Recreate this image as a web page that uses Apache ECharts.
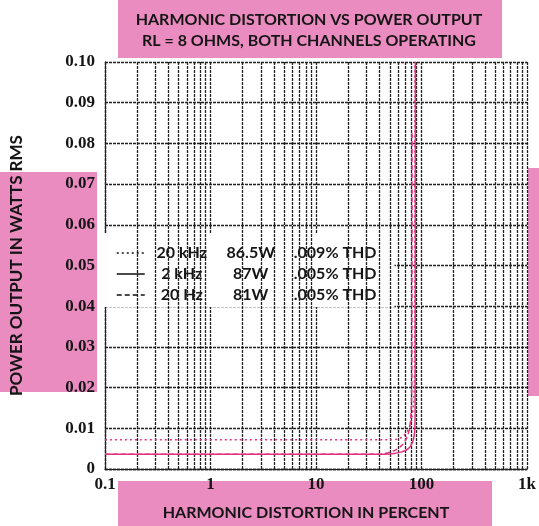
<!DOCTYPE html>
<html>
<head>
<meta charset="utf-8">
<script src="https://cdn.jsdelivr.net/npm/echarts@6/dist/echarts.min.js"></script>
<style>
html,body{margin:0;padding:0;background:#fff;}
#chart{width:539px;height:526px;}
</style>
</head>
<body>
<div id="chart"></div>
<script>
// ---- data (x: axis labelled "harmonic distortion in percent", y: axis labelled "power output in watts rms") ----
const titleLines = ['HARMONIC DISTORTION VS POWER OUTPUT', 'RL = 8 OHMS, BOTH CHANNELS OPERATING'];
const xAxisName = 'HARMONIC DISTORTION IN PERCENT';
const yAxisName = 'POWER OUTPUT IN WATTS RMS';
const xTicks = [0.1, 1, 10, 100, 1000];
const xTickLabels = ['0.1', '1', '10', '100', '1k'];
const yTicks = [0, 0.01, 0.02, 0.03, 0.04, 0.05, 0.06, 0.07, 0.08, 0.09, 0.10];

const seriesNames = ['20 kHz', '2 kHz', '20 Hz'];
const seriesPower = ['86.5W', '87W', '81W'];
const seriesThd = ['.009% THD', '.005% THD', '.005% THD'];

const s20kHz = [[0.1,0.0072],[50,0.0072],[60,0.0074],[68,0.0082],[75,0.0097],[80,0.012],[84,0.016],[86,0.026],[86.5,0.1]];
const s2kHz  = [[0.1,0.0036],[45,0.0036],[55,0.0038],[65,0.0042],[75,0.005],[82,0.0065],[86,0.009],[87,0.015],[87.5,0.1]];
const s20Hz  = [[0.1,0.0036],[35,0.0036],[45,0.0038],[55,0.0045],[65,0.0058],[72,0.0075],[77,0.010],[80,0.015],[81,0.025],[81.3,0.083]];

// minor log grid positions (2..9 within each decade)
const minorGrid = [];
for (let d = 0.1; d < 1000; d *= 10) {
  for (let k = 2; k <= 9; k++) minorGrid.push(+(d * k).toPrecision(3));
}

const pink = '#eb8cc0';
const curveColor = '#e0337f';
const gridColor = '#222';
const gridLine = { color: gridColor, width: 1.3, type: [3, 1] };

const chart = echarts.init(document.getElementById('chart'));
const powerMap = {}, thdMap = {};
seriesNames.forEach((n, i) => { powerMap[n] = seriesPower[i]; thdMap[n] = seriesThd[i]; });

const txt = { fontFamily: 'Lato', fontWeight: 'bold', color: '#151515' };

const option = {
  animation: false,
  backgroundColor: '#fff',
  graphic: [
    { type: 'rect', z: -10, silent: true, shape: { x: 118, y: 0, width: 384, height: 58 }, style: { fill: pink } },
    { type: 'rect', z: -10, silent: true, shape: { x: 0, y: 172, width: 97, height: 220 }, style: { fill: pink } },
    { type: 'rect', z: -10, silent: true, shape: { x: 528, y: 168, width: 11, height: 228 }, style: { fill: pink } },
    { type: 'rect', z: -10, silent: true, shape: { x: 118, y: 481, width: 374, height: 45 }, style: { fill: pink } }
  ],
  title: {
    text: titleLines.join('\n'),
    left: 304, top: 4, textAlign: 'center',
    textStyle: Object.assign({ fontSize: 16, lineHeight: 21 }, txt)
  },
  grid: { left: 98, right: 11, top: 62, bottom: 47 },
  xAxis: {
    type: 'log', logBase: 10, min: 0.1, max: 1000,
    name: xAxisName, nameLocation: 'middle', nameGap: 36,
    nameTextStyle: Object.assign({ fontSize: 16, padding: [0, 20, 0, 0] }, txt),
    axisLine: { show: true, lineStyle: gridLine },
    axisTick: { show: false },
    axisLabel: {
      margin: 7, fontFamily: 'Liberation Serif', fontWeight: 'bold', fontSize: 17, color: '#151515',
      formatter: v => { const i = xTicks.findIndex(t => Math.abs(t - v) / t < 1e-6); return i >= 0 ? xTickLabels[i] : ''; }
    },
    splitLine: { show: true, lineStyle: gridLine }
  },
  yAxis: {
    type: 'value', min: 0, max: 0.1, interval: 0.01,
    name: yAxisName, nameLocation: 'middle', nameGap: 80, nameRotate: 90,
    nameTextStyle: Object.assign({ fontSize: 17 }, txt),
    axisLine: { show: true, lineStyle: gridLine },
    axisTick: { show: false },
    axisLabel: {
      margin: 10, fontFamily: 'Liberation Serif', fontWeight: 'bold', fontSize: 17, color: '#151515',
      formatter: v => { const i = yTicks.findIndex(t => Math.abs(t - v) < 1e-9); return i === 0 ? '0' : (i > 0 ? yTicks[i].toFixed(2) : ''); }
    },
    splitLine: { show: true, lineStyle: gridLine }
  },
  legend: {
    orient: 'vertical', left: 98, top: 233,
    padding: [12, 18, 4, 18],
    backgroundColor: '#fff',
    itemWidth: 28, itemHeight: 14, itemGap: 5,
    data: seriesNames,
    lineStyle: { color: '#111', width: 1.5 },
    itemStyle: { opacity: 0, borderWidth: 0 },
    textStyle: {
      fontFamily: 'Lato', fontWeight: 'bold', fontSize: 16, color: '#151515',
      rich: {
        a: Object.assign({ width: 64, align: 'right', fontSize: 16 }, txt),
        b: Object.assign({ width: 74, align: 'right', fontSize: 16 }, txt),
        c: Object.assign({ padding: [0, 0, 0, 6], fontSize: 16 }, txt)
      }
    },
    formatter: n => '{a|' + n + '}{b|' + powerMap[n] + '}{c|' + thdMap[n] + '}'
  },
  series: [
    {
      name: seriesNames[0], type: 'line', data: s20kHz, symbol: 'none', smooth: 0.3, z: 5,
      lineStyle: { color: curveColor, width: 1.5, type: [2, 3] }, itemStyle: { color: curveColor }
    },
    {
      name: seriesNames[1], type: 'line', data: s2kHz, symbol: 'none', smooth: 0.3, z: 5,
      lineStyle: { color: curveColor, width: 1.5, type: 'solid' }, itemStyle: { color: curveColor }
    },
    {
      name: seriesNames[2], type: 'line', data: s20Hz, symbol: 'none', smooth: 0.3, z: 5,
      lineStyle: { color: curveColor, width: 1.5, type: [5, 3] }, itemStyle: { color: curveColor }
    },
    {
      type: 'line', data: [], silent: true, z: 1,
      markLine: {
        silent: true, symbol: 'none', label: { show: false }, animation: false,
        lineStyle: gridLine,
        data: minorGrid.map(v => ({ xAxis: v }))
      }
    }
  ]
};
chart.setOption(option);
</script>
</body>
</html>
